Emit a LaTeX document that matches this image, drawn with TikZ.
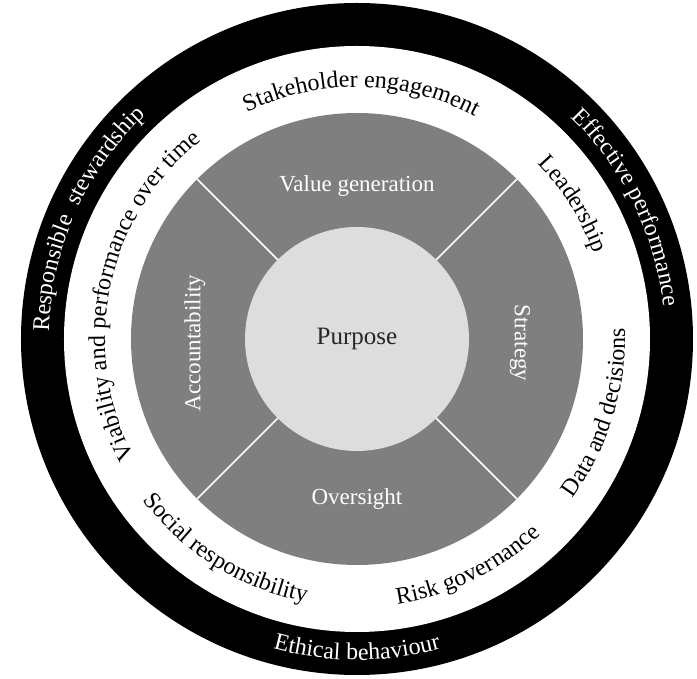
\documentclass[tikz,border=0pt]{standalone}
\usepackage{fontspec}
\setmainfont{Liberation Serif}
\usetikzlibrary{decorations.text}
\definecolor{segmentgray}{HTML}{7F7F7F}
\definecolor{coregray}{HTML}{DCDDDC}
\newcommand{\ringfont}{\fontsize{12}{14}\selectfont}
\newcommand{\segfont}{\fontsize{11.5}{13}\selectfont}
\begin{document}
\begin{tikzpicture}[x=0.5pt,y=0.5pt,
	ringtext/.style={decorate,decoration={text along path,text align=center,text={|\ringfont|#1}}},
	blackring/.style={decorate,decoration={text along path,text align=center,text={|\ringfont\color{white}|#1}}},
	segtext/.style={text=white,font=\segfont},
	divider/.style={draw=white,line width=0.8pt}]
		\useasboundingbox (-357,-340) rectangle (340,339);
		\fill[black] (0,0) circle (336);
		\fill[white] (0,0) circle (293);
		\fill[segmentgray] (0,0) circle (226);
		\fill[coregray] (0,0) circle (112);
		\draw[divider] (45:112) -- (45:226);
		\draw[divider] (135:112) -- (135:226);
		\draw[divider] (225:112) -- (225:226);
		\draw[divider] (315:112) -- (315:226);
		\node[font=\fontsize{12.5}{14}\selectfont,text=black!85] (purpose) at (0,0) {Purpose};
		\node[segtext] (value) at (0,153) {Value generation};
		\node[segtext,rotate=-90] (strategy) at (163,-4) {Strategy};
		\node[segtext] (oversight) at (0,-160) {Oversight};
		\node[segtext,rotate=90] (accountability) at (-162,-4) {Accountability};
		% white ring
		\path[ringtext={Stakeholder engagement}] (124:252) arc[start angle=124,end angle=54,radius=252];
		\path[ringtext={Leadership}] (62:252) arc[start angle=62,end angle=2,radius=252];
		\path[ringtext={Viability and performance over time}] (213:252) arc[start angle=213,end angle=123,radius=252];
		\path[ringtext={Data and decisions}] (-49:268) arc[start angle=-49,end angle=15,radius=268];
		\path[ringtext={Risk gover{\kern0.8pt}nance}] (-94:268) arc[start angle=-94,end angle=-34,radius=268];
		\path[ringtext={Social responsibility}] (208:268) arc[start angle=208,end angle=268,radius=268];
		% black ring
		\path[blackring={Responsible {\ }stewardship}] (186:308) arc[start angle=186,end angle=126,radius=308];
		\path[blackring={Effective performance}] (56:308) arc[start angle=56,end angle=-4,radius=308];
		\path[blackring={Ethical behaviour}] (240:321) arc[start angle=240,end angle=300,radius=321];
	\end{tikzpicture}
\end{document}
